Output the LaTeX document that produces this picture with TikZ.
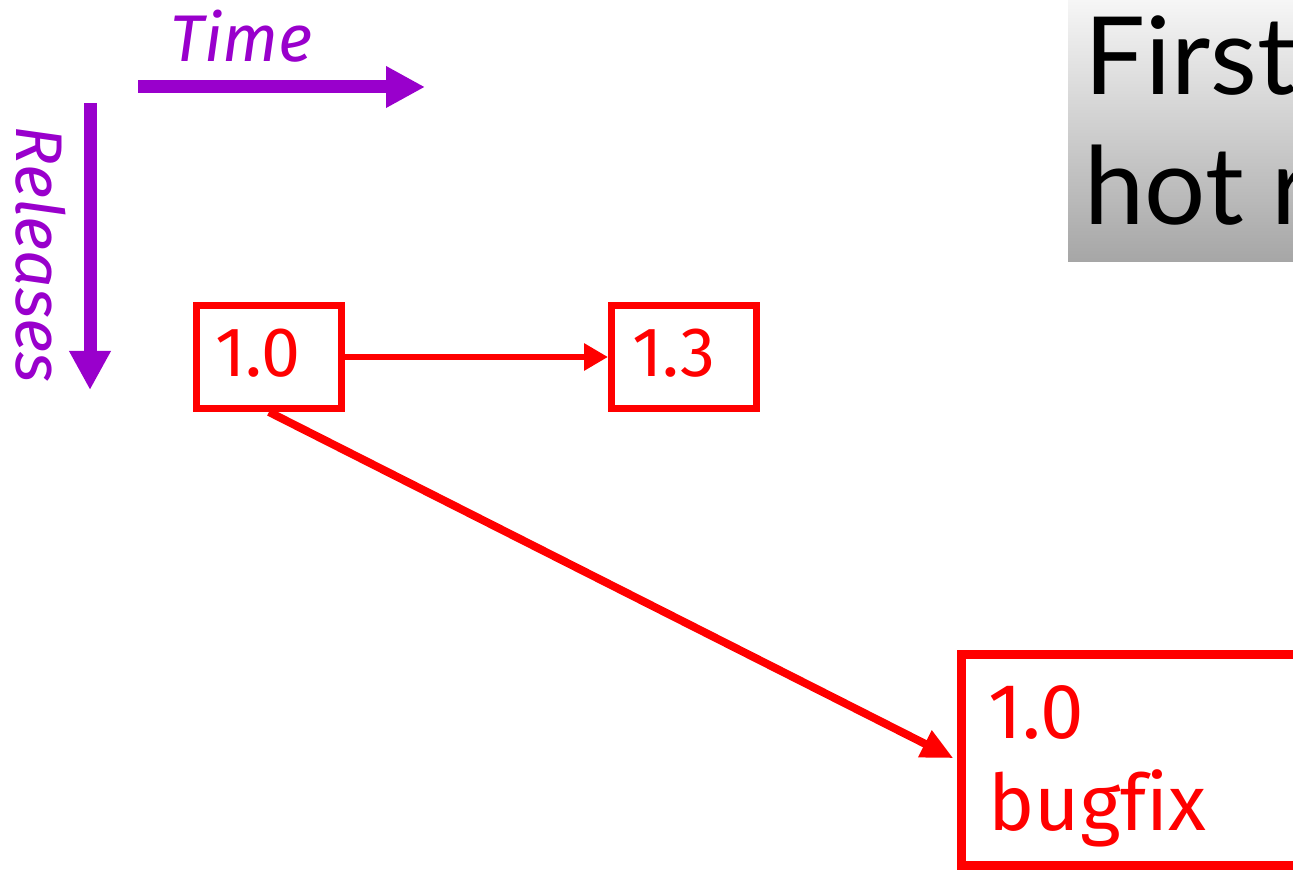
\documentclass[tikz,border=0pt]{standalone}
\usepackage{fontspec}
\usetikzlibrary{arrows.meta}
\newfontfamily\comicf[Ligatures=NoCommon]{Fira Sans}
\newfontfamily\gillf{Lato}
\definecolor{purp}{RGB}{153,0,204}
\definecolor{rred}{RGB}{255,0,0}
\definecolor{gtop}{RGB}{246,246,246}
\definecolor{gbot}{RGB}{166,166,166}
\tikzset{
  axisarrow/.style={draw=purp, line width=6.5pt, -{Triangle[length=19.5pt,width=19.5pt]}},
  axislabel/.style={text=purp, font=\comicf\itshape\fontsize{33}{40}\selectfont, inner sep=0pt, anchor=base west},
  relbox/.style={draw=rred, line width=3.5pt, rectangle, inner sep=0pt},
  rellabel/.style={text=rred, font=\comicf\fontsize{35}{42}\selectfont, inner sep=0pt, anchor=base west},
  biglabel/.style={text=rred, font=\comicf\fontsize{39}{46}\selectfont, inner sep=0pt, anchor=base west},
  relarrow/.style={draw=rred, line width=3pt, -{Triangle[length=12pt,width=13pt]}},
  diagarrow/.style={draw=rred, line width=4pt, -{Triangle[length=16pt,width=14pt]}},
  titletext/.style={text=black, font=\gillf\fontsize{54}{65}\selectfont, inner sep=0pt, anchor=base west}
}
\begin{document}
\begin{tikzpicture}[x=0.5pt,y=-0.5pt]
\useasboundingbox (0,0) rectangle (1293,870);
\clip (0,0) rectangle (1293,870);
% title box
\shade[top color=gtop, bottom color=gbot] (1068,0) rectangle (1310,262);
\node[titletext] (t1) at (1084,95) {First};
\node[titletext] (t2) at (1084,225) {hot r};
% axes
\coordinate (ta) at (138,87);
\coordinate (tb) at (425,87);
\draw[axisarrow] (ta) -- (tb);
\node[axislabel] (time) at (170,62) {Time};
\coordinate (ra) at (90,103);
\coordinate (rb) at (90,390);
\draw[axisarrow] (ra) -- (rb);
\node[axislabel, rotate=-90] (rel) at (17,125) {Releases};
% boxes
\node[relbox, minimum width=72.5pt, minimum height=51.5pt] (b10) at (269,357) {};
\node[relbox, minimum width=72.5pt, minimum height=51.5pt] (b13) at (684,357) {};
\node[relbox, minimum width=200pt, minimum height=105.5pt, line width=4.5pt] (bfx) at (1161.5,760) {};
\node[rellabel] (l10) at (215,377) {1.0};
\node[rellabel] (l13) at (632,377) {1.3};
\node[biglabel] (l10b) at (988,738) {1.0};
\node[biglabel] (lbug) at (988,830) {bugfix};
% connectors
\draw[relarrow] (b10.east) -- (b13.west);
\draw[diagarrow, shorten >=2pt] (b10.south) -- (bfx.west);
\end{tikzpicture}
\end{document}
